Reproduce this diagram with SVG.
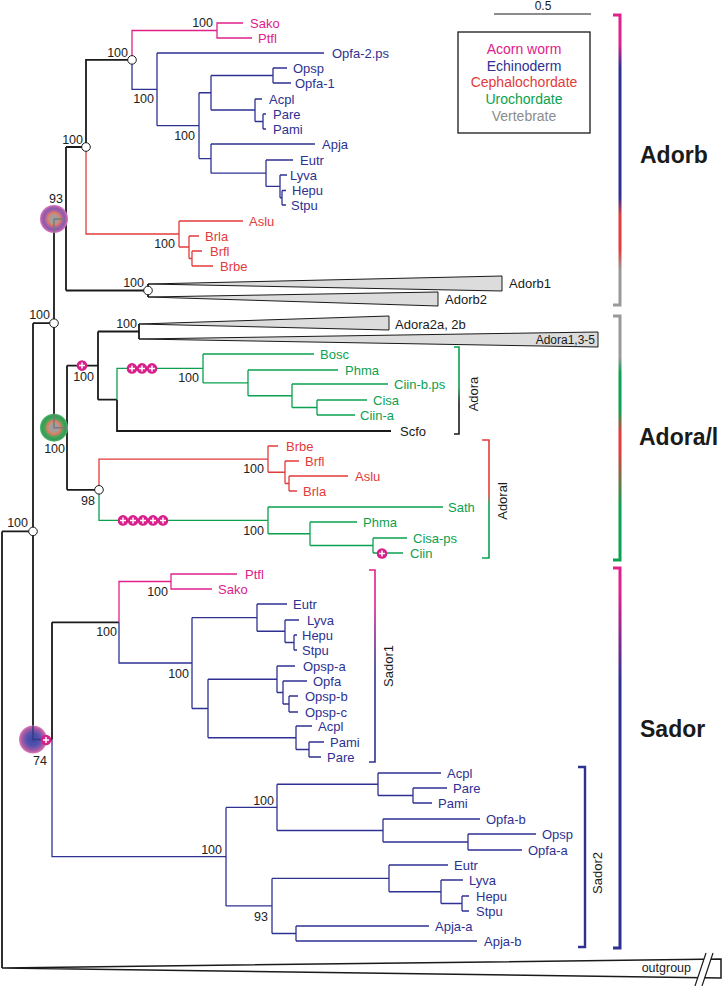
<svg xmlns="http://www.w3.org/2000/svg" width="722" height="986" viewBox="0 0 722 986">
<style>
text{font-family:"Liberation Sans",Arial,Helvetica,sans-serif}
.lf{font-size:13px}
.bs{font-size:12.5px;fill:#222}
.big{font-size:23px;font-weight:bold;fill:#1a1a1a}
.tp{fill:#e0218a}.tb{fill:#2e3192}.tr{fill:#e23b3b}.tg{fill:#0aa14f}.tv{fill:#8c8c8c}.tk{fill:#1a1a1a}
.k{fill:none;stroke:#1a1a1a;stroke-width:1.8}
.b{fill:none;stroke:#2e3192;stroke-width:1.3}
.p{fill:none;stroke:#e0218a;stroke-width:1.3}
.r{fill:none;stroke:#e23b3b;stroke-width:1.3}
.g{fill:none;stroke:#0aa14f;stroke-width:1.3}
.w{fill:#dcdcdc;stroke:#1a1a1a;stroke-width:1}
.oc{fill:#fff;stroke:#1a1a1a;stroke-width:1}
.pl{fill:#d81f8a}
.px{stroke:#fff;stroke-width:1.5}
</style>
<defs>
<linearGradient id="gAdorb" gradientUnits="userSpaceOnUse" x1="0" y1="15" x2="0" y2="305">
<stop offset="0" stop-color="#e0218a"/><stop offset="0.1" stop-color="#e0218a"/><stop offset="0.18" stop-color="#2e3192"/><stop offset="0.63" stop-color="#2e3192"/><stop offset="0.69" stop-color="#e23b3b"/><stop offset="0.81" stop-color="#e23b3b"/><stop offset="0.88" stop-color="#999"/><stop offset="1" stop-color="#999"/>
</linearGradient>
<linearGradient id="gAdoraL" gradientUnits="userSpaceOnUse" x1="0" y1="316" x2="0" y2="560">
<stop offset="0" stop-color="#999"/><stop offset="0.17" stop-color="#999"/><stop offset="0.234" stop-color="#0aa14f"/><stop offset="0.385" stop-color="#0aa14f"/><stop offset="0.48" stop-color="#e23b3b"/><stop offset="0.55" stop-color="#e23b3b"/><stop offset="0.78" stop-color="#0aa14f"/><stop offset="1" stop-color="#0aa14f"/>
</linearGradient>
<linearGradient id="gSador" gradientUnits="userSpaceOnUse" x1="0" y1="568" x2="0" y2="948">
<stop offset="0" stop-color="#e0218a"/><stop offset="0.06" stop-color="#e0218a"/><stop offset="0.3" stop-color="#2e3192"/><stop offset="1" stop-color="#2e3192"/>
</linearGradient>
<linearGradient id="gAdora" gradientUnits="userSpaceOnUse" x1="0" y1="347" x2="0" y2="434">
<stop offset="0" stop-color="#0aa14f"/><stop offset="0.46" stop-color="#0aa14f"/><stop offset="0.64" stop-color="#1a1a1a"/><stop offset="1" stop-color="#1a1a1a"/>
</linearGradient>
<linearGradient id="gAdoral" gradientUnits="userSpaceOnUse" x1="0" y1="440" x2="0" y2="558">
<stop offset="0" stop-color="#e23b3b"/><stop offset="0.45" stop-color="#e23b3b"/><stop offset="0.55" stop-color="#0aa14f"/><stop offset="1" stop-color="#0aa14f"/>
</linearGradient>
<linearGradient id="gSador1" gradientUnits="userSpaceOnUse" x1="0" y1="570" x2="0" y2="762">
<stop offset="0" stop-color="#e0218a"/><stop offset="0.17" stop-color="#e0218a"/><stop offset="0.52" stop-color="#2e3192"/><stop offset="1" stop-color="#2e3192"/>
</linearGradient>
<radialGradient id="rg93">
<stop offset="0" stop-color="#9c9c9c"/><stop offset="0.3" stop-color="#a59e9e"/><stop offset="0.45" stop-color="#e77a5c"/><stop offset="0.6" stop-color="#a865a6"/><stop offset="0.78" stop-color="#8a5aa8"/><stop offset="0.9" stop-color="#c062b2"/><stop offset="1" stop-color="#d27cc0"/>
</radialGradient>
<radialGradient id="rgGreen">
<stop offset="0" stop-color="#9c9c9c"/><stop offset="0.3" stop-color="#a59e9e"/><stop offset="0.47" stop-color="#e77a5c"/><stop offset="0.65" stop-color="#4fa35c"/><stop offset="0.85" stop-color="#2f9e55"/><stop offset="1" stop-color="#5bb56f"/>
</radialGradient>
<radialGradient id="rgSador">
<stop offset="0" stop-color="#4046a8"/><stop offset="0.45" stop-color="#5052ac"/><stop offset="0.75" stop-color="#9a58a8"/><stop offset="0.9" stop-color="#c462a8"/><stop offset="1" stop-color="#d88cc0"/>
</radialGradient>
<g id="plus"><circle r="5.3" class="pl"/><path d="M-3,0H3M0,-3V3" class="px"/></g>
</defs>
<rect width="722" height="986" fill="#fff"/>

<g id="connectors">
<path class="k" d="M86,147V59.9H132M66,147H86M66,147V290.5M66,290.5H148M148,284V297M54,218.75H66M54,218.75V427.7M33,323.2H54M54,427.7H67M67,365.6V489.8M67,365.6H98M98,331.5V399.7M98,331.5H139M139,324V339M98,399.7H117M117,399.7V431H391M67,489.8H99M33,323.2V739.5M2,531.4H33M2,531.4V968M33,739.5H52M52,622.3V739.5M52,622.3H119"/>
<path class="p" d="M132,59.9V30.5H217M243,23H217V38H252M119,622.3V581.5H171M237,574H171V589H212"/>
<path class="b" d="M132,59.9V89.3H157M157,53V125.7M157,53H324M157,125.7H199M199,92.75V158.6M199,92.75H211M211,75.5V110M211,75.5H273M273,68V83M273,68H287M273,83H291M211,110H255M255,99V121.5M255,99H262M255,121.5H263M263,114V129M263,114H266M263,129H266M199,158.6H211M211,144V173.2M211,144H315M211,173.2H266M266,160V186.4M266,160H293M266,186.4H280M280,175V197.75M280,175H287M280,197.75H282M282,190.5V205M282,190.5H286M282,205H286"/>
<path class="b" d="M119,622.3V663H192M192,617.6V708.5M192,617.6H257M257,604V631.25M257,604H287M257,631.25H285M285,620V642.5M285,620H299M285,642.5H294M294,635V650M294,635H297M294,650H297M192,708.5H208M208,679.25V737.75M208,679.25H277M277,666V692.5M277,666H295M277,692.5H283M283,681V704M283,681H307M283,704H289M289,696V712M289,696H298M289,712H298M208,737.75H296M296,726V749.5M296,726H312M296,749.5H309M309,742V757M309,742H324M309,757H321"/>
<path class="b" d="M52,739.5V856.7H226M226,807.4V905.9M226,807.4H277M277,784.25V830.5M277,784.25H378M378,773V795.5M378,773H441M378,795.5H413M413,788V803M413,788H447M413,803H432M277,830.5H383M383,819V842M383,819H480M383,842H468M468,834V850M468,834H536M468,850H522M226,905.9H272M272,878.4V933.5M272,878.4H389M389,865V891.75M389,865H448M389,891.75H441M441,880V903.5M441,880H463M441,903.5H462M462,896V911M462,896H469M462,911H469M272,933.5H296M296,926V941M296,926H429M296,941H477"/>
<path class="r" d="M86,147V234H179M179,221V247M179,221H243M179,247H189M189,236V258.5M189,236H199M189,258.5H192M192,251V266M192,251H202M192,266H213M99,489.8V459.1H268M268,446V472.25M268,446H278M268,472.25H285M285,461V483.5M285,461H299M285,483.5H289M289,476V491M289,476H348M289,491H297"/>
<path class="g" d="M117,399.7V368.4H203M203,354V382.9M203,354H314M203,382.9H248M248,370V395.75M248,370H338M248,395.75H292M292,384V407.5M292,384H388M292,407.5H317M317,400V415M317,400H367M317,415H355M99,489.8V520.4H268M268,507V533.75M268,507H443M268,533.75H310M310,522V545.5M310,522H357M310,545.5H373M373,538V553M373,538H407M373,553H403"/>
</g>

<g id="collapsed">
<polygon class="w" points="148,284 502,276 502,291"/>
<polygon class="w" points="148,297 438,292 438,306"/>
<polygon class="w" points="139,324 389,316 389,330"/>
<polygon class="w" points="139,339 598,332 598,347"/>
<polygon points="2,968 721,959 721,978" fill="#fff" stroke="#1a1a1a" stroke-width="1.5"/>
<polygon points="695,986 706,953 713,953 702,986" fill="#fff"/>
<path d="M695,986L706,953M702,986L713,953" stroke="#1a1a1a" stroke-width="1.2"/>
<text class="lf tk" x="509" y="288">Adorb1</text>
<text class="lf tk" x="445" y="304">Adorb2</text>
<text class="lf tk" x="395" y="328.5">Adora2a, 2b</text>
<text class="tk" x="595" y="344" font-size="12" text-anchor="end">Adora1,3-5</text>
<text class="tk" x="691" y="972" font-size="12.5" text-anchor="end">outgroup</text>
</g>

<g id="markers">
<circle cx="54" cy="219" r="14" fill="url(#rg93)"/>
<path d="M54,219H66M54,219V233" stroke="#7a7a7a" stroke-width="1.5" fill="none"/>
<circle cx="54" cy="427.7" r="14" fill="url(#rgGreen)"/>
<path d="M54,414V427.7H67" stroke="#7a7a7a" stroke-width="1.5" fill="none"/>
<circle cx="33" cy="739.5" r="14" fill="url(#rgSador)"/>
<path d="M33,726V739.5H47" stroke="#333a80" stroke-width="1.5" fill="none"/>
<circle class="oc" cx="132" cy="59.9" r="4.3"/>
<circle class="oc" cx="86" cy="147" r="4.3"/>
<circle class="oc" cx="148" cy="290.5" r="4.3"/>
<circle class="oc" cx="54" cy="323.2" r="4.3"/>
<circle class="oc" cx="33" cy="531.4" r="4.3"/>
<circle class="oc" cx="99" cy="489.8" r="4.3"/>
<use href="#plus" x="82" y="365.6"/>
<use href="#plus" x="132" y="368.4"/><use href="#plus" x="142" y="368.4"/><use href="#plus" x="152" y="368.4"/>
<use href="#plus" x="123" y="520.4"/><use href="#plus" x="133" y="520.4"/><use href="#plus" x="143" y="520.4"/><use href="#plus" x="153" y="520.4"/><use href="#plus" x="163" y="520.4"/>
<use href="#plus" x="382" y="553.5"/>
<use href="#plus" x="46" y="740"/>
</g>

<g id="support" text-anchor="end">
<text class="bs" x="213" y="27">100</text>
<text class="bs" x="128" y="57">100</text>
<text class="bs" x="154" y="103">100</text>
<text class="bs" x="195" y="140">100</text>
<text class="bs" x="83" y="144">100</text>
<text class="bs" x="63" y="203">93</text>
<text class="bs" x="175" y="248">100</text>
<text class="bs" x="144" y="287">100</text>
<text class="bs" x="50" y="319">100</text>
<text class="bs" x="137" y="328">100</text>
<text class="bs" x="94" y="381">100</text>
<text class="bs" x="199" y="382">100</text>
<text class="bs" x="65" y="453">100</text>
<text class="bs" x="264" y="473">100</text>
<text class="bs" x="95" y="505">98</text>
<text class="bs" x="264" y="535">100</text>
<text class="bs" x="28" y="527">100</text>
<text class="bs" x="168" y="596">100</text>
<text class="bs" x="117" y="636">100</text>
<text class="bs" x="189" y="678">100</text>
<text class="bs" x="47" y="765">74</text>
<text class="bs" x="274" y="805">100</text>
<text class="bs" x="222" y="854">100</text>
<text class="bs" x="268" y="921">93</text>
</g>

<g id="leaves" class="lf">
<text class="tp" x="250" y="27.5">Sako</text>
<text class="tp" x="258" y="42.5">Ptfl</text>
<text class="tb" x="332" y="57.5">Opfa-2.ps</text>
<text class="tb" x="293" y="72.5">Opsp</text>
<text class="tb" x="295" y="87.5">Opfa-1</text>
<text class="tb" x="269" y="103.5">Acpl</text>
<text class="tb" x="273" y="118.5">Pare</text>
<text class="tb" x="273" y="133.5">Pami</text>
<text class="tb" x="322" y="148.5">Apja</text>
<text class="tb" x="300" y="164.5">Eutr</text>
<text class="tb" x="290" y="179.5">Lyva</text>
<text class="tb" x="292" y="195">Hepu</text>
<text class="tb" x="291" y="209.5">Stpu</text>
<text class="tr" x="249" y="225.5">Aslu</text>
<text class="tr" x="205" y="240.5">Brla</text>
<text class="tr" x="210" y="255.5">Brfl</text>
<text class="tr" x="220" y="270.5">Brbe</text>
<text class="tg" x="320" y="358.5">Bosc</text>
<text class="tg" x="345" y="374.5">Phma</text>
<text class="tg" x="394" y="388.5">Ciin-b.ps</text>
<text class="tg" x="373" y="404.5">Cisa</text>
<text class="tg" x="360" y="419.5">Ciin-a</text>
<text class="tk" x="400" y="435.5">Scfo</text>
<text class="tr" x="286" y="450.5">Brbe</text>
<text class="tr" x="305" y="465.5">Brfl</text>
<text class="tr" x="355" y="480.5">Aslu</text>
<text class="tr" x="303" y="495.5">Brla</text>
<text class="tg" x="448" y="511.5">Sath</text>
<text class="tg" x="363" y="526.5">Phma</text>
<text class="tg" x="413" y="542.5">Cisa-ps</text>
<text class="tg" x="410" y="557.5">Ciin</text>
<text class="tp" x="245" y="578.5">Ptfl</text>
<text class="tp" x="218" y="593.5">Sako</text>
<text class="tb" x="293" y="608.5">Eutr</text>
<text class="tb" x="307" y="624.5">Lyva</text>
<text class="tb" x="302" y="639.5">Hepu</text>
<text class="tb" x="302" y="654.5">Stpu</text>
<text class="tb" x="303" y="670.5">Opsp-a</text>
<text class="tb" x="313" y="685.5">Opfa</text>
<text class="tb" x="305" y="700.5">Opsp-b</text>
<text class="tb" x="305" y="716.5">Opsp-c</text>
<text class="tb" x="318" y="730.5">Acpl</text>
<text class="tb" x="330" y="746.5">Pami</text>
<text class="tb" x="327" y="761.5">Pare</text>
<text class="tb" x="447" y="777.5">Acpl</text>
<text class="tb" x="453" y="792.5">Pare</text>
<text class="tb" x="438" y="807.5">Pami</text>
<text class="tb" x="486" y="823.5">Opfa-b</text>
<text class="tb" x="542" y="838.5">Opsp</text>
<text class="tb" x="528" y="854.5">Opfa-a</text>
<text class="tb" x="454" y="869.5">Eutr</text>
<text class="tb" x="469" y="884.5">Lyva</text>
<text class="tb" x="476" y="900.5">Hepu</text>
<text class="tb" x="476" y="915.5">Stpu</text>
<text class="tb" x="435" y="930.5">Apja-a</text>
<text class="tb" x="484" y="945.5">Apja-b</text>
</g>

<g id="brackets" fill="none">
<path d="M613,15H620V305H613" stroke="url(#gAdorb)" stroke-width="3"/>
<path d="M613,316H620V560H613" stroke="url(#gAdoraL)" stroke-width="3"/>
<path d="M613,568H620V948H613" stroke="url(#gSador)" stroke-width="3"/>
<path d="M454,347H459V434H454" stroke="url(#gAdora)" stroke-width="1.6"/>
<path d="M482,440H489V558H482" stroke="url(#gAdoral)" stroke-width="1.6"/>
<path d="M369,570H375V762H369" stroke="url(#gSador1)" stroke-width="1.6"/>
<path d="M578,767H585V947H578" stroke="#2e3192" stroke-width="2.4"/>
</g>

<g id="bracket-labels">
<text class="lf tk" transform="translate(478,394) rotate(-90)" text-anchor="middle">Adora</text>
<text class="lf tk" transform="translate(507,501) rotate(-90)" text-anchor="middle">Adoral</text>
<text class="lf tk" transform="translate(393,666) rotate(-90)" text-anchor="middle">Sador1</text>
<text class="lf tk" transform="translate(602,873) rotate(-90)" text-anchor="middle">Sador2</text>
<text class="big" x="640" y="163">Adorb</text>
<text class="big" x="639" y="445">Adora/l</text>
<text class="big" x="640" y="737">Sador</text>
</g>

<g id="legend">
<rect x="458" y="32" width="132" height="101" fill="none" stroke="#1a1a1a" stroke-width="1.3"/>
<g font-size="14" text-anchor="middle">
<text class="tp" x="524" y="54">Acorn worm</text>
<text class="tb" x="524" y="70.7">Echinoderm</text>
<text class="tr" x="524" y="87.4">Cephalochordate</text>
<text class="tg" x="524" y="104">Urochordate</text>
<text class="tv" x="524" y="120.8">Vertebrate</text>
</g>
</g>

<g id="scalebar">
<path d="M494,14H591" stroke="#1a1a1a" stroke-width="1.2"/>
<text x="543" y="10" font-size="12" text-anchor="middle" fill="#1a1a1a">0.5</text>
</g>
</svg>
